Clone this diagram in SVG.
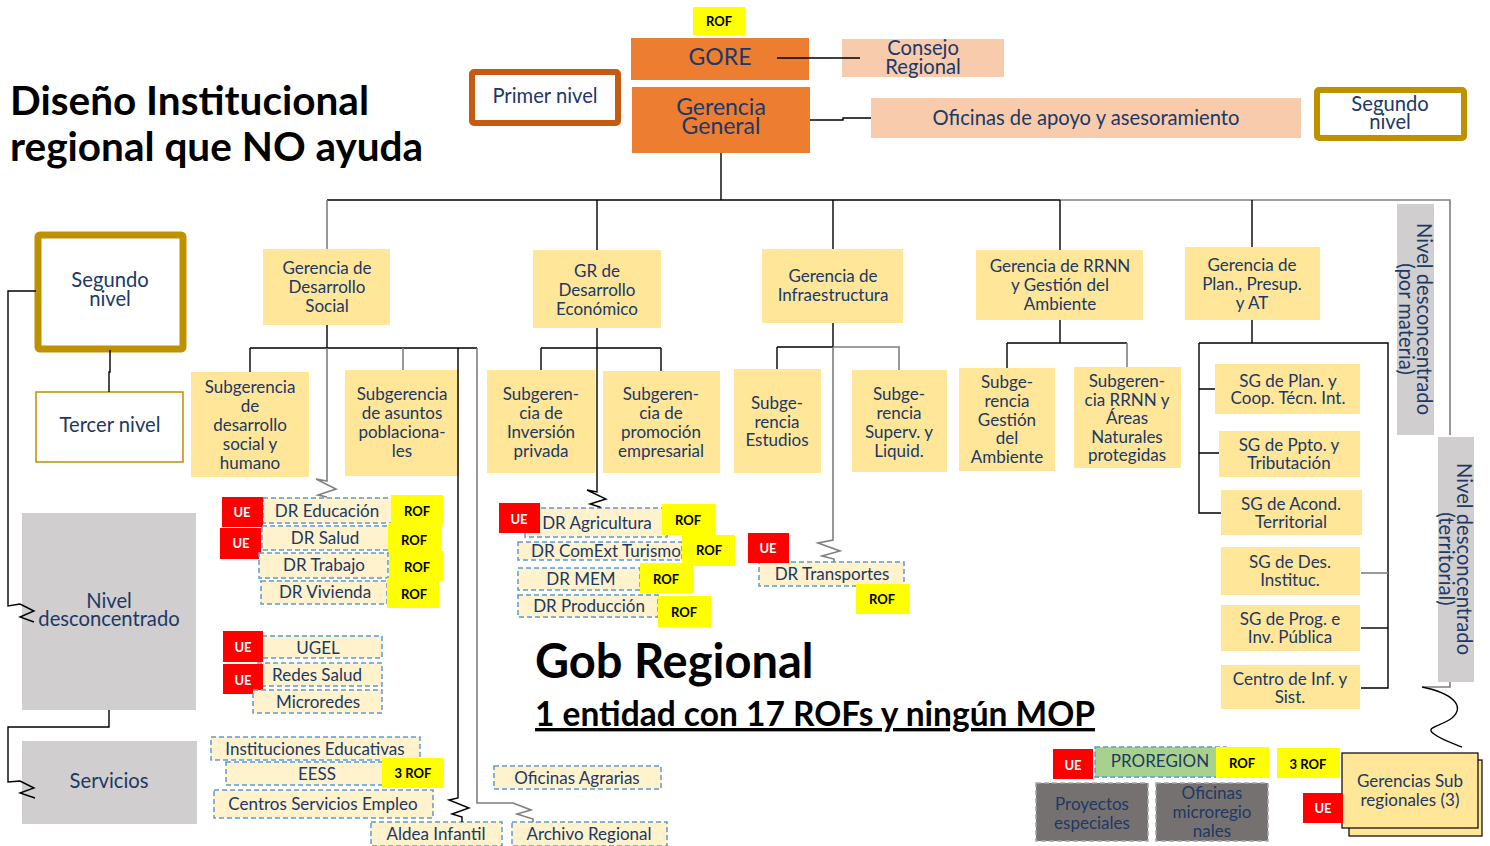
<svg xmlns="http://www.w3.org/2000/svg" width="1490" height="846" viewBox="0 0 1490 846">
<defs>
<style>
.t{font-family:Lato,"Liberation Sans",sans-serif;fill:#203864;text-anchor:middle;dominant-baseline:central;font-size:17px}
.m{font-size:20.2px}
.xl{font-size:23px}
.b{font-family:Lato,"Liberation Sans",sans-serif;font-weight:bold;text-anchor:middle;dominant-baseline:central;font-size:13px}
.rof{fill:#FFFF00}
.ue{fill:#FF0000}
.gy{fill:#FFE699}
.pe{fill:#F8CBAD}
.or{fill:#ED7D31}
.gr{fill:#D0CECE}
.dr{fill:#FFF2CC;stroke:#5B9BD5;stroke-width:1.5;stroke-dasharray:5 3}
.c{fill:none;stroke:#000;stroke-width:1.4}
.cg{fill:none;stroke:#7F7F7F;stroke-width:1.6}
.h{font-family:Lato,"Liberation Sans",sans-serif;font-weight:bold;fill:#000}
</style>
</defs>
<rect width="1490" height="846" fill="#fff"/>

<g id="title">
<text class="h" x="10" y="115" style="font-size:40.5px">Diseño Institucional</text>
<text class="h" x="10" y="161" style="font-size:40.5px">regional que NO ayuda</text>
</g>

<g id="gob-regional">
<text class="h" x="535" y="678" style="font-size:47px">Gob Regional</text>
<text class="h" x="535" y="726" style="font-size:33.5px" text-decoration="underline">1 entidad con 17 ROFs y ningún MOP</text>
</g>

<g id="rof-gore"><rect class="rof" x="693" y="7" width="52" height="28"/><text class="b" x="719" y="21">ROF</text></g>
<g id="gore"><rect class="or" x="631" y="38" width="178" height="42"/><text class="t xl" x="720" y="56">GORE</text></g>
<g id="consejo"><rect class="pe" x="842" y="39" width="162" height="38"/><text class="t m" x="923" y="47">Consejo</text><text class="t m" x="923" y="66">Regional</text></g>
<g id="primer-nivel"><rect x="472" y="72" width="146" height="51" fill="#fff" stroke="#C55A11" stroke-width="6" rx="2"/><text class="t m" x="545" y="95">Primer nivel</text></g>
<g id="gerencia-general"><rect class="or" x="632" y="87" width="178" height="66"/><text class="t xl" x="721" y="106">Gerencia</text><text class="t xl" x="721" y="125">General</text></g>
<g id="oficinas-apoyo"><rect class="pe" x="871" y="98" width="430" height="40"/><text class="t m" x="1086" y="117">Oficinas de apoyo y asesoramiento</text></g>
<g id="segundo-nivel-top"><rect x="1317" y="90" width="147" height="48" fill="#fff" stroke="#BF9000" stroke-width="6" rx="2"/><text class="t m" x="1390" y="103">Segundo</text><text class="t m" x="1390" y="121">nivel</text></g>

<g id="segundo-nivel-left"><rect x="38" y="235" width="145" height="114" fill="#fff" stroke="#BF9000" stroke-width="7" rx="2"/><text class="t m" x="110" y="279">Segundo</text><text class="t m" x="110" y="298">nivel</text></g>
<g id="tercer-nivel"><rect x="36" y="392" width="147" height="70" fill="#fff" stroke="#BF9000" stroke-width="1.5"/><text class="t m" x="110" y="424">Tercer nivel</text></g>
<g id="nivel-desconcentrado"><rect class="gr" x="22" y="513" width="174" height="197"/><text class="t m" x="109" y="600">Nivel</text><text class="t m" x="109" y="618">desconcentrado</text></g>
<g id="servicios"><rect class="gr" x="22" y="741" width="175" height="83"/><text class="t m" x="109" y="780">Servicios</text></g>

<g id="g-des-social"><rect class="gy" x="263" y="249" width="127" height="76"/><text class="t" x="327" y="267">Gerencia de</text><text class="t" x="327" y="286">Desarrollo</text><text class="t" x="327" y="305">Social</text></g>
<g id="g-des-economico"><rect class="gy" x="533" y="250" width="128" height="78"/><text class="t" x="597" y="270">GR de</text><text class="t" x="597" y="289">Desarrollo</text><text class="t" x="597" y="308">Económico</text></g>
<g id="g-infra"><rect class="gy" x="762" y="249" width="141" height="74"/><text class="t" x="833" y="275">Gerencia de</text><text class="t" x="833" y="294">Infraestructura</text></g>
<g id="g-rrnn"><rect class="gy" x="976" y="250" width="167" height="70"/><text class="t" x="1060" y="265">Gerencia de RRNN</text><text class="t" x="1060" y="284">y Gestión del</text><text class="t" x="1060" y="303">Ambiente</text></g>
<g id="g-plan"><rect class="gy" x="1185" y="247" width="135" height="73"/><text class="t" x="1252" y="264">Gerencia de</text><text class="t" x="1252" y="283">Plan., Presup.</text><text class="t" x="1252" y="302">y AT</text></g>

<g id="nd-materia"><rect class="gr" x="1397" y="204" width="37" height="231"/><text class="t m" transform="translate(1425,319) rotate(90)">Nivel desconcentrado</text><text class="t m" transform="translate(1407,319) rotate(90)">(por materia)</text></g>
<g id="nd-territorial"><rect class="gr" x="1438" y="437" width="36" height="245"/><text class="t m" transform="translate(1465,559) rotate(90)">Nivel desconcentrado</text><text class="t m" transform="translate(1447,559) rotate(90)">(territorial)</text></g>

<g id="sg-des-social"><rect class="gy" x="191" y="372" width="118" height="105"/><text class="t" x="250" y="386">Subgerencia</text><text class="t" x="250" y="405">de</text><text class="t" x="250" y="424">desarrollo</text><text class="t" x="250" y="443">social y</text><text class="t" x="250" y="462">humano</text></g>
<g id="sg-poblacionales"><rect class="gy" x="345" y="370" width="114" height="106"/><text class="t" x="402" y="393">Subgerencia</text><text class="t" x="402" y="412">de asuntos</text><text class="t" x="402" y="431">poblaciona-</text><text class="t" x="402" y="450">les</text></g>
<g id="sg-inversion"><rect class="gy" x="487" y="370" width="108" height="103"/><text class="t" x="541" y="393">Subgeren-</text><text class="t" x="541" y="412">cia de</text><text class="t" x="541" y="431">Inversión</text><text class="t" x="541" y="450">privada</text></g>
<g id="sg-promocion"><rect class="gy" x="603" y="371" width="117" height="102"/><text class="t" x="661" y="393">Subgeren-</text><text class="t" x="661" y="412">cia de</text><text class="t" x="661" y="431">promoción</text><text class="t" x="661" y="450">empresarial</text></g>
<g id="sg-estudios"><rect class="gy" x="734" y="369" width="87" height="104"/><text class="t" x="777" y="402">Subge-</text><text class="t" x="777" y="421">rencia</text><text class="t" x="777" y="439">Estudios</text></g>
<g id="sg-superv"><rect class="gy" x="852" y="370" width="95" height="102"/><text class="t" x="899" y="393">Subge-</text><text class="t" x="899" y="412">rencia</text><text class="t" x="899" y="431">Superv. y</text><text class="t" x="899" y="450">Liquid.</text></g>
<g id="sg-gestion-ambiente"><rect class="gy" x="959" y="368" width="96" height="103"/><text class="t" x="1007" y="381">Subge-</text><text class="t" x="1007" y="400">rencia</text><text class="t" x="1007" y="419">Gestión</text><text class="t" x="1007" y="437">del</text><text class="t" x="1007" y="456">Ambiente</text></g>
<g id="sg-areas"><rect class="gy" x="1074" y="367" width="107" height="101"/><text class="t" x="1127" y="380">Subgeren-</text><text class="t" x="1127" y="399">cia RRNN y</text><text class="t" x="1127" y="417">Áreas</text><text class="t" x="1127" y="436">Naturales</text><text class="t" x="1127" y="454">protegidas</text></g>

<g id="sg-plan"><rect class="gy" x="1215" y="364" width="145" height="50"/><text class="t" x="1288" y="380">SG de Plan. y</text><text class="t" x="1288" y="397">Coop. Técn. Int.</text></g>
<g id="sg-ppto"><rect class="gy" x="1219" y="431" width="141" height="46"/><text class="t" x="1289" y="444">SG de Ppto. y</text><text class="t" x="1289" y="462">Tributación</text></g>
<g id="sg-acond"><rect class="gy" x="1221" y="490" width="141" height="45"/><text class="t" x="1291" y="503">SG de Acond.</text><text class="t" x="1291" y="521">Territorial</text></g>
<g id="sg-instituc"><rect class="gy" x="1221" y="547" width="139" height="48"/><text class="t" x="1290" y="561">SG de Des.</text><text class="t" x="1290" y="579">Instituc.</text></g>
<g id="sg-prog"><rect class="gy" x="1221" y="605" width="139" height="46"/><text class="t" x="1290" y="618">SG de Prog. e</text><text class="t" x="1290" y="636">Inv. Pública</text></g>
<g id="centro-inf"><rect class="gy" x="1221" y="665" width="139" height="44"/><text class="t" x="1290" y="678">Centro de Inf. y</text><text class="t" x="1290" y="696">Sist.</text></g>

<g id="dr-educacion"><rect class="dr" x="263" y="498" width="129" height="25"/><text class="t" x="327" y="510">DR Educación</text><rect class="ue" x="222" y="497" width="41" height="30"/><text class="b" x="242" y="512" fill="#fff">UE</text><rect class="rof" x="391" y="495" width="52" height="31"/><text class="b" x="417" y="511">ROF</text></g>
<g id="dr-salud"><rect class="dr" x="262" y="526" width="127" height="24"/><text class="t" x="325" y="537">DR Salud</text><rect class="ue" x="220" y="528" width="41" height="31"/><text class="b" x="241" y="543" fill="#fff">UE</text><rect class="rof" x="388" y="523" width="53" height="31"/><text class="b" x="414" y="540">ROF</text></g>
<g id="dr-trabajo"><rect class="dr" x="259" y="553" width="129" height="25"/><text class="t" x="324" y="564">DR Trabajo</text><rect class="rof" x="389" y="551" width="54" height="30"/><text class="b" x="417" y="567">ROF</text></g>
<g id="dr-vivienda"><rect class="dr" x="261" y="581" width="126" height="23"/><text class="t" x="325" y="591">DR Vivienda</text><rect class="rof" x="387" y="578" width="52" height="30"/><text class="b" x="414" y="594">ROF</text></g>
<g id="ugel"><rect class="dr" x="262" y="636" width="120" height="22"/><text class="t" x="318" y="647">UGEL</text><rect class="ue" x="223" y="631" width="40" height="31"/><text class="b" x="243" y="647" fill="#fff">UE</text></g>
<g id="redes-salud"><rect class="dr" x="257" y="663" width="125" height="23"/><text class="t" x="317" y="674">Redes Salud</text><rect class="ue" x="223" y="664" width="40" height="30"/><text class="b" x="243" y="680" fill="#fff">UE</text></g>
<g id="microredes"><rect class="dr" x="253" y="690" width="129" height="23"/><text class="t" x="318" y="701">Microredes</text></g>

<g id="dr-agricultura"><rect class="dr" x="525" y="508" width="142" height="29"/><text class="t" x="597" y="522">DR Agricultura</text><rect class="ue" x="499" y="503" width="41" height="30"/><text class="b" x="519" y="519" fill="#fff">UE</text><rect class="rof" x="662" y="504" width="53" height="31"/><text class="b" x="688" y="520">ROF</text></g>
<g id="dr-comext"><rect class="dr" x="518" y="542" width="164" height="18"/><text class="t" x="606" y="550">DR ComExt Turismo</text><rect class="rof" x="682" y="535" width="53" height="31"/><text class="b" x="709" y="550">ROF</text></g>
<g id="dr-mem"><rect class="dr" x="518" y="568" width="122" height="22"/><text class="t" x="581" y="578">DR MEM</text><rect class="rof" x="640" y="563" width="53" height="30"/><text class="b" x="666" y="579">ROF</text></g>
<g id="dr-produccion"><rect class="dr" x="518" y="595" width="140" height="22"/><text class="t" x="589" y="605">DR Producción</text><rect class="rof" x="658" y="596" width="53" height="31"/><text class="b" x="684" y="612">ROF</text></g>
<g id="dr-transportes"><rect class="dr" x="759" y="562" width="145" height="24"/><text class="t" x="832" y="573">DR Transportes</text><rect class="ue" x="748" y="533" width="41" height="30"/><text class="b" x="768" y="548" fill="#fff">UE</text><rect class="rof" x="856" y="584" width="53" height="30"/><text class="b" x="882" y="599">ROF</text></g>

<g id="instituciones-educativas"><rect class="dr" x="211" y="737" width="209" height="23"/><text class="t" x="315" y="748">Instituciones Educativas</text></g>
<g id="eess"><rect class="dr" x="226" y="762" width="167" height="23"/><text class="t" x="317" y="773">EESS</text><rect class="rof" x="382" y="758" width="62" height="30"/><text class="b" x="413" y="773">3 ROF</text></g>
<g id="centros-empleo"><rect class="dr" x="214" y="790" width="219" height="28"/><text class="t" x="323" y="803">Centros Servicios Empleo</text></g>
<g id="aldea-infantil"><rect class="dr" x="371" y="822" width="131" height="24"/><text class="t" x="436" y="833">Aldea Infantil</text></g>
<g id="archivo-regional"><rect class="dr" x="512" y="822" width="155" height="24"/><text class="t" x="589" y="833">Archivo Regional</text></g>
<g id="oficinas-agrarias"><rect class="dr" x="494" y="766" width="167" height="23"/><text class="t" x="577" y="777">Oficinas Agrarias</text></g>

<g id="proregion"><rect x="1095" y="747" width="131" height="30" fill="#A9D18E" stroke="#5B9BD5" stroke-width="1.5" stroke-dasharray="5 3"/><text class="t" x="1160" y="760">PROREGION</text><rect class="ue" x="1053" y="749" width="40" height="30"/><text class="b" x="1073" y="765" fill="#fff">UE</text><rect class="rof" x="1216" y="747" width="53" height="31"/><text class="b" x="1242" y="763">ROF</text></g>
<g id="tres-rof"><rect class="rof" x="1277" y="748" width="63" height="30"/><text class="b" x="1308" y="764">3 ROF</text></g>
<g id="proyectos-especiales"><rect x="1036" y="783" width="112" height="58" fill="#767171" stroke="#A6A6A6" stroke-width="1.5" stroke-dasharray="5 3"/><text class="t" x="1092" y="803">Proyectos</text><text class="t" x="1092" y="822">especiales</text></g>
<g id="oficinas-microregionales"><rect x="1156" y="783" width="112" height="58" fill="#767171" stroke="#A6A6A6" stroke-width="1.5" stroke-dasharray="5 3"/><text class="t" x="1212" y="792">Oficinas</text><text class="t" x="1212" y="811">microregio</text><text class="t" x="1212" y="830">nales</text></g>
<g id="gerencias-sub"><rect x="1349" y="760" width="133" height="76" class="gy" stroke="#000" stroke-width="1.2"/><rect x="1342" y="753" width="136" height="75" class="gy" stroke="#000" stroke-width="1.2"/><text class="t" x="1410" y="780">Gerencias Sub</text><text class="t" x="1410" y="799">regionales (3)</text><rect class="ue" x="1303" y="793" width="40" height="30"/><text class="b" x="1323" y="808" fill="#fff">UE</text></g>

<g id="connectors">
<path class="c" d="M777,58 H860"/>
<path class="c" d="M810,120 H843 V118 H871"/>
<path class="c" d="M721,153 V200"/>
<path class="c" d="M327,200 H1060"/>
<path class="cg" d="M1060,200 H1450 V435"/>
<path class="cg" d="M327,200 V249"/>
<path class="c" d="M597,200 V250 M833,200 V249 M1060,200 V250 M1252,200 V247"/>
<path class="c" d="M110,350 V372 H109 V392"/>
<path class="c" d="M36,291 H8 V606 L20,604 L34,611 L20,617 L34,622"/>
<path class="c" d="M109,710 V727 H8 V782 L20,781 L34,788 L20,793 L35,798"/>
<path class="c" d="M327,325 V348 M250,348 H477 M250,348 V372"/>
<path class="cg" d="M403,348 V370"/>
<path class="cg" d="M327,348 V481 L316,479 L336,489 L318,495 L327,497"/>
<path class="c" d="M458,348 V798 L449,800 L469,808 L452,814 L462,817 V822"/>
<path class="cg" d="M477,348 V803 H513 L531,810 L517,814 L533,819 V822"/>
<path class="c" d="M597,328 V348 M541,348 H661 M541,348 V370 M661,348 V371"/>
<path class="c" d="M597,348 V492 L587,490 L606,499 L590,504 L600,507 V508"/>
<path class="c" d="M833,323 V347 M777,347 H833 M777,347 V369"/>
<path class="cg" d="M833,347 H899 V370 M833,347 V540 L818,543 L840,551 L822,556 L834,559 V562"/>
<path class="c" d="M1060,320 V343 M1007,343 H1127 M1007,343 V368"/>
<path class="cg" d="M1127,343 V367"/>
<path class="c" d="M1252,320 V343 M1199,343 H1388 V688 H1361 M1199,343 V513 H1221 M1199,389 H1215 M1199,453 H1219"/>
<path class="cg" d="M1361,573 H1388"/>
<path class="c" d="M1361,628 H1388"/>
<path class="cg" d="M1423,687 H1450 V682"/>
<path class="c" d="M1422,687 C1452,693 1466,706 1452,718 C1440,727 1424,727 1434,734 C1442,740 1452,743 1462,747"/>
</g>
</svg>
